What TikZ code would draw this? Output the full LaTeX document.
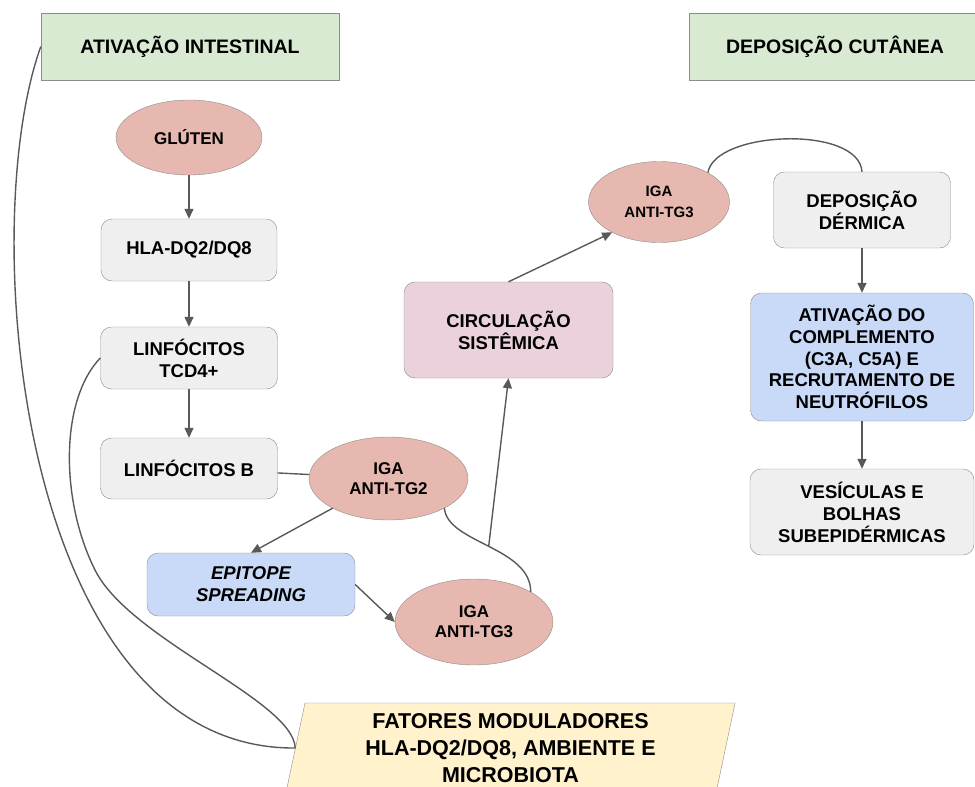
\documentclass[tikz,border=0pt]{standalone}
\usepackage{fontspec}
\setmainfont{Liberation Sans}
\usetikzlibrary{shapes.geometric,arrows.meta}
\definecolor{verde}{HTML}{D9EAD3}
\definecolor{cinza}{HTML}{EFEFEF}
\definecolor{salmao}{HTML}{E6B8AF}
\definecolor{rosa}{HTML}{EAD1DC}
\definecolor{azul}{HTML}{C9DAF8}
\definecolor{amarelo}{HTML}{FFF2CC}
\definecolor{borda}{HTML}{8C8C8C}
\definecolor{linha}{HTML}{595959}

\begin{document}
\begin{tikzpicture}[x=1pt,y=-1pt,
    texto/.style={font=\fontsize{18.5}{22}\selectfont\bfseries, align=center, inner sep=0pt},
    titulo/.style={texto, font=\fontsize{19.5}{23}\selectfont\bfseries, rectangle, draw=borda, fill=verde, minimum height=67pt},
    caixa/.style={texto, rectangle, rounded corners=11pt, draw=borda, fill=cinza},
    elipse/.style={texto, font=\fontsize{17}{20}\selectfont\bfseries, ellipse, draw=borda, fill=salmao},
    seta/.style={draw=linha, line width=1.4pt, -{Triangle[length=10pt,width=9pt]}},
    liga/.style={draw=linha, line width=1.4pt}]

    \useasboundingbox (0,0) rectangle (975,787);
    \clip (0,0) rectangle (975,787);

    % titulos
    \node[titulo, minimum width=298pt] (intest) at (190,46.5) {ATIVAÇÃO INTESTINAL};
    \node[titulo, minimum width=292pt] (cutanea) at (835,46.5) {DEPOSIÇÃO CUTÂNEA};

    % ativacao intestinal
    \node[elipse, minimum width=146pt, minimum height=75pt] (gluten) at (189,137.5) {GLÚTEN};
    \node[caixa, minimum width=176pt, minimum height=62pt] (hla) at (189,250) {HLA-DQ2/DQ8};
    \node[caixa, minimum width=177pt, minimum height=62pt] (tcd) at (189,358) {LINFÓCITOS\\TCD4+};
    \node[caixa, minimum width=177pt, minimum height=61pt] (linfb) at (189,468.5) {LINFÓCITOS B};
    \node[elipse, minimum width=159pt, minimum height=83pt] (tgdois) at (388.5,478.5) {IGA\\ANTI-TG2};
    \node[caixa, fill=azul, font=\fontsize{18.5}{22}\selectfont\bfseries\itshape,
          minimum width=208pt, minimum height=63pt] (epitope) at (251,584.5) {EPITOPE\\SPREADING};
    \node[elipse, minimum width=158pt, minimum height=86pt] (tgtres) at (474,622) {IGA\\ANTI-TG3};
    \node[caixa, fill=rosa, minimum width=209pt, minimum height=96pt] (circ) at (508.5,330) {CIRCULAÇÃO\\SISTÊMICA};

    % deposicao cutanea
    \node[elipse, font=\fontsize{15}{21}\selectfont\bfseries,
          minimum width=141pt, minimum height=81pt] (tgcima) at (659,202) {IGA\\ANTI-TG3};
    \node[caixa, minimum width=177pt, minimum height=76pt] (dermica) at (862,210) {DEPOSIÇÃO\\DÉRMICA};
    \node[caixa, fill=azul, font=\fontsize{18.5}{21.7}\selectfont\bfseries,
          minimum width=223pt, minimum height=128pt] (compl) at (862,357)
          {ATIVAÇÃO DO\\COMPLEMENTO\\(C3A, C5A) E\\RECRUTAMENTO DE\\NEUTRÓFILOS};
    \node[caixa, minimum width=224pt, minimum height=86pt] (vesic) at (862,512) {VESÍCULAS E\\BOLHAS\\SUBEPIDÉRMICAS};

    \node[texto, font=\fontsize{21.5}{27}\selectfont\bfseries, trapezium, trapezium left angle=79,
          trapezium right angle=101, trapezium stretches=true, draw=borda, fill=amarelo,
          minimum width=450.5pt, minimum height=90pt] (fatores) at (510.5,748)
          {FATORES MODULADORES\\HLA-DQ2/DQ8, AMBIENTE E\\MICROBIOTA};

    \path (gluten) edge [seta] (hla);
    \path (hla) edge [seta] (tcd);
    \path (tcd) edge [seta] (linfb);
    \path (linfb) edge [liga] (tgdois);
    \path (tgdois.208) edge [seta] (epitope.north);
    \path (epitope.east) edge [seta] (tgtres.west);
    \draw [liga] (tgdois.332) .. controls +(3,35) and +(0,-45) .. (tgtres.28) coordinate[pos=0.5] (meio);
    \path (meio) edge [seta] (circ.south);
    \path (circ.north) edge [seta] (tgcima.213);
    \draw [liga] (tgcima.31) .. controls +(7,-42) and +(-3,-47) .. (dermica.north);
    \path (dermica) edge [seta] (compl);
    \path (compl) edge [seta] (vesic);

    % fatores moduladores
    \draw [liga] (intest.west) .. controls (-25,230) and (20,750) .. (fatores.west);
    \draw [liga] (tcd.west) .. controls (60,400) and (60,500) .. (95,570)
                 .. controls (130,640) and (293,700) .. (fatores.west);
\end{tikzpicture}
\end{document}
